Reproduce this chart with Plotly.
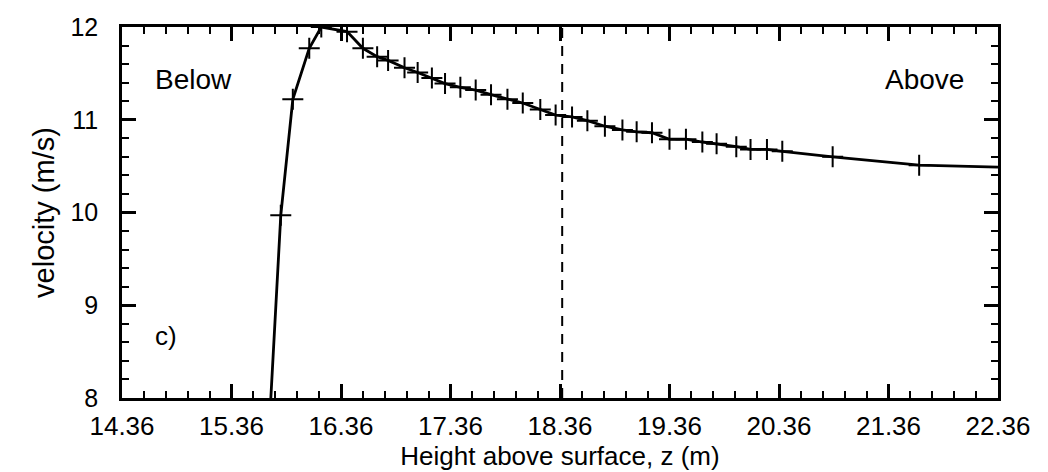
import plotly.graph_objects as go

# Data
height_z = [15.71, 15.81, 15.92, 16.07, 16.18, 16.415, 16.56, 16.69, 16.79, 16.94, 17.06, 17.19,
            17.31, 17.45, 17.59, 17.73, 17.88, 18.02, 18.18, 18.32, 18.47, 18.61, 18.77, 18.93,
            19.06, 19.20, 19.36, 19.51, 19.66, 19.79, 19.97, 20.10, 20.25, 20.39, 20.85, 21.64, 22.36]
velocity = [7.80, 9.97, 11.22, 11.77, 12.00, 11.95, 11.77, 11.68, 11.64, 11.56, 11.51, 11.45,
            11.39, 11.35, 11.32, 11.27, 11.22, 11.18, 11.11, 11.05, 11.03, 10.99, 10.93, 10.89,
            10.87, 10.86, 10.79, 10.79, 10.76, 10.74, 10.71, 10.68, 10.68, 10.66, 10.60, 10.51, 10.49]
# The first and last points are not marked
marked = [False] + [True] * (len(height_z) - 2) + [False]

x_ticks = [14.36, 15.36, 16.36, 17.36, 18.36, 19.36, 20.36, 21.36, 22.36]
x_tick_text = ["14.36", "15.36", "16.36", "17.36", "18.36", "19.36", "20.36", "21.36", "22.36"]
y_ticks = [8, 9, 10, 11, 12]
surface_z = 18.38

font_family = "Liberation Sans, Arial, Helvetica, sans-serif"

fig = go.Figure()
fig.add_trace(go.Scatter(
    x=height_z, y=velocity, mode="lines",
    line=dict(color="black", width=2.8),
    showlegend=False, hoverinfo="skip",
))
fig.add_trace(go.Scatter(
    x=[z for z, m in zip(height_z, marked) if m],
    y=[v for v, m in zip(velocity, marked) if m],
    mode="markers",
    marker=dict(symbol="cross-thin", size=15, line=dict(color="black", width=2)),
    showlegend=False,
))
fig.add_trace(go.Scatter(
    x=[surface_z, surface_z], y=[8, 12], mode="lines",
    line=dict(color="black", width=2, dash="10px,8px"),
    showlegend=False, hoverinfo="skip",
))

fig.add_annotation(x=14.64, y=11.43, text="Below", showarrow=False, xanchor="left",
                   font=dict(size=28, color="black", family=font_family))
fig.add_annotation(x=22.07, y=11.43, text="Above", showarrow=False, xanchor="right",
                   font=dict(size=28, color="black", family=font_family))
fig.add_annotation(x=14.64, y=8.67, text="c)", showarrow=False, xanchor="left",
                   font=dict(size=26, color="black", family=font_family))

axis_common = dict(
    showgrid=False, zeroline=False, automargin=False,
    showline=True, linecolor="black", linewidth=2.5,
    ticks="inside", ticklen=14, tickwidth=2.5, tickcolor="black",
    mirror="allticks",
)

fig.update_xaxes(
    **axis_common,
    range=[14.36, 22.36],
    tickmode="array", tickvals=x_ticks, ticktext=x_tick_text,
    tickfont=dict(size=26, color="black", family=font_family),
    minor=dict(ticks="inside", ticklen=7, tickwidth=2, tickcolor="black",
               tick0=14.36, dtick=0.2),
    ticklabelstandoff=3,
    title=dict(text="Height above surface, z (m)", standoff=0,
               font=dict(size=26, color="black", family=font_family)),
)
fig.update_yaxes(
    **axis_common,
    range=[8, 12],
    tickmode="array", tickvals=y_ticks,
    tickfont=dict(size=25, color="black", family=font_family),
    minor=dict(ticks="inside", ticklen=7, tickwidth=2, tickcolor="black",
               tick0=8, dtick=0.2),
    ticklabelstandoff=16,
    title=dict(text="velocity (m/s)", standoff=8,
               font=dict(size=29, color="black", family=font_family)),
)

fig.update_layout(
    width=1040, height=464,
    margin=dict(l=114, r=50, t=19, b=74),
    plot_bgcolor="white", paper_bgcolor="white",
)

fig.write_html("out.html")
